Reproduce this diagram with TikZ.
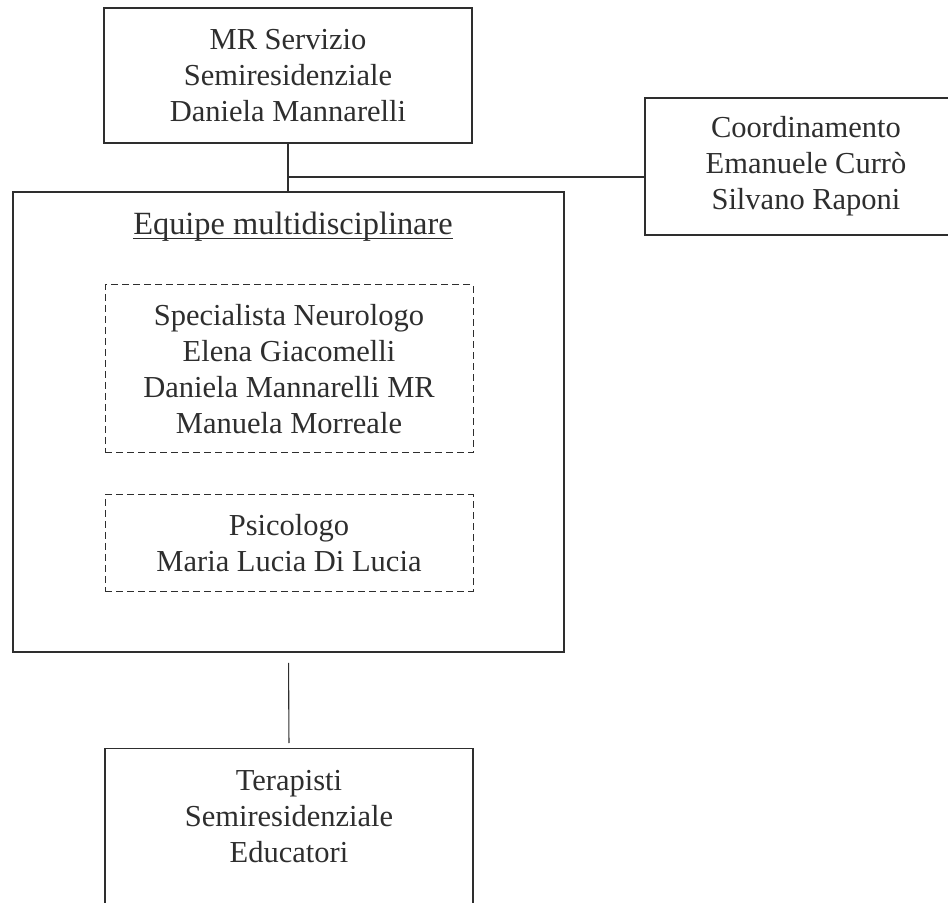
\documentclass[tikz,border=0pt]{standalone}
\usepackage{fontspec}
\setmainfont{Liberation Serif}
\usetikzlibrary{calc, positioning}
\definecolor{ink}{gray}{0.18}
\def\bw{184pt}
\tikzset{
    border/.style = {
        draw=ink, rectangle, line width=0.65pt, align=center, text=ink,
        minimum width=\bw, inner sep=0pt,
        font=\fontsize{15.25}{18}\selectfont
    },
    dashborder/.style = {
        border, line width=0.5pt, dash pattern=on 3.5pt off 2pt
    },
    label text/.style = {
        align=center, text=ink, inner sep=0pt,
        font=\fontsize{15.25}{18}\selectfont
    },
    link/.style = {draw=ink, line width=0.55pt},
}

\begin{document}
\begin{tikzpicture}[x=0.5pt, y=-0.5pt]
        \clip (0,0) rectangle (948,903);

        % Place the blocks
        \node[border, minimum height=67.5pt] (mr) at (288,75.5)
            {MR Servizio\\Semiresidenziale\\Daniela Mannarelli};
        \node[border, minimum width=161pt, minimum height=68.5pt] (coord) at (806,166.5)
            {Coordinamento\\Emanuele Currò\\Silvano Raponi};
        \node[border, line width=0.9pt, minimum width=275.5pt, minimum height=230pt] (equipe) at (288.5,422) {};
        \node[label text, anchor=base, font=\fontsize{16.2}{19}\selectfont] (title) at (293,235)
            {Equipe multidisciplinare};
        \draw[link, line width=0.5pt] ([yshift=-2pt]title.base west) -- ([yshift=-2pt]title.base east);
        \node[dashborder, minimum height=84pt] (neuro) at (289,369)
            {Specialista Neurologo\\Elena Giacomelli\\Daniela Mannarelli MR\\Manuela Morreale};
        \node[dashborder, minimum height=48pt] (psico) at (289,543)
            {Psicologo\\Maria Lucia Di Lucia};
        \node[border, minimum height=85pt, anchor=north] (terap) at (289,748) {};
        \node[label text] (terapT) at (289,817)
            {Terapisti\\Semiresidenziale\\Educatori};

        % Draw connections
        \coordinate (j) at (288,177);
        \draw[link] (mr.south) -- (mr.south |- equipe.north);
        \draw[link] (j) -- (j -| coord.west);
        \draw[link, shorten <=5pt, shorten >=2.5pt] (equipe.south) -- (terap.north);
\end{tikzpicture}
\end{document}
